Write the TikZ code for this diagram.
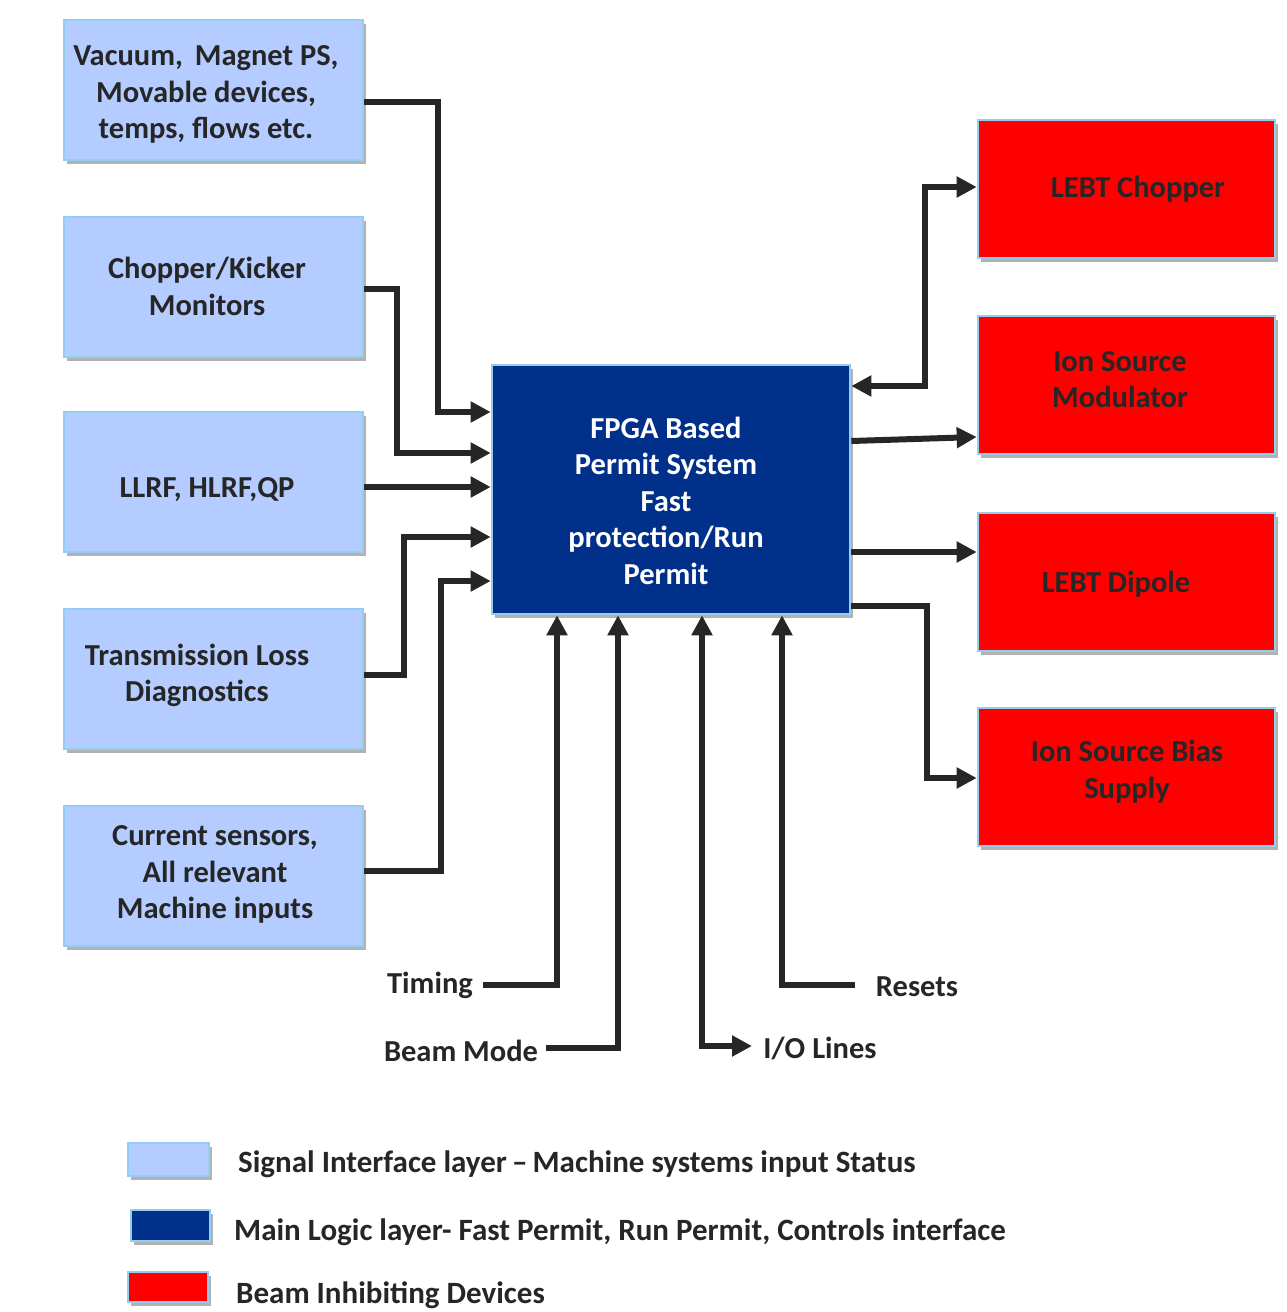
\documentclass[tikz,border=0pt]{standalone}
\usepackage{fontspec}
\setmainfont{Carlito}
\usetikzlibrary{arrows.meta,shadows}
\definecolor{txtc}{HTML}{262626}
\definecolor{lightfill}{HTML}{B4CCFF}
\definecolor{bordc}{HTML}{92CFEE}
\definecolor{darkfill}{HTML}{00308A}
\definecolor{redfill}{HTML}{FF0000}
\definecolor{linec}{HTML}{262626}
\tikzset{
  boxbase/.style={draw=bordc, line width=2.6pt, inner sep=0pt,
    drop shadow={shadow xshift=3pt, shadow yshift=-4pt, fill=black, opacity=0.3}},
  lightbox/.style={boxbase, fill=lightfill, minimum width=299pt, minimum height=140pt},
  darkbox/.style={boxbase, fill=darkfill, minimum width=358pt, minimum height=249pt},
  redbox/.style={boxbase, fill=redfill, minimum width=297pt, minimum height=138pt},
  boxtxt/.style={font=\fontsize{30.5}{36.5}\selectfont\bfseries, text=txtc, align=center, inner sep=0pt, yshift=-2.5pt},
  whitetxt/.style={boxtxt, text=white},
  lbl/.style={font=\fontsize{30.5}{36.5}\selectfont\bfseries, text=txtc, inner sep=0pt, yshift=-2pt},
  legtxt/.style={font=\fontsize{31}{36.5}\selectfont\bfseries, text=txtc, inner sep=0pt, anchor=west, yshift=-2pt},
  arr/.style={draw=linec, line width=6pt, -{Triangle[length=20pt,width=20pt]}},
  dblarr/.style={draw=linec, line width=6pt, {Triangle[length=20pt,width=20pt]}-{Triangle[length=20pt,width=20pt]}},
}
\begin{document}
\begin{tikzpicture}[x=1pt,y=-1pt]
\useasboundingbox (0,0) rectangle (1287,1312);
\fill[white] (0,0) rectangle (1287,1312);

% left boxes
\node[lightbox] (b1) at (213.5,90) {};
\node[lightbox] (b2) at (213.5,287) {};
\node[lightbox] (b3) at (213.5,482) {};
\node[lightbox] (b4) at (213.5,679) {};
\node[lightbox] (b5) at (213.5,876) {};
\node[boxtxt] (t1) at (206,92) {Vacuum,\, Magnet PS,\\Movable devices,\\temps, flows etc.};
\node[boxtxt] (t2) at (207,284) {Chopper/Kicker\\Monitors};
\node[boxtxt] (t3) at (207,487) {LLRF, HLRF,QP};
\node[boxtxt] (t4) at (197,673) {Transmission Loss\\Diagnostics};
\node[boxtxt] (t5) at (215,872) {Current sensors,\\All relevant\\Machine inputs};

% central box
\node[darkbox] (fpga) at (671,489.5) {};
\node[whitetxt] (tf) at (666,498) {FPGA Based\\Permit System\\Fast\\protection/Run\\Permit};

% red boxes
\node[redbox] (r1) at (1126.5,189) {};
\node[redbox] (r2) at (1126.5,385) {};
\node[redbox] (r3) at (1126.5,582) {};
\node[redbox] (r4) at (1126.5,777) {};
\node[boxtxt] (tr1) at (1138,187) {LEBT Chopper};
\node[boxtxt] (tr2) at (1120,377) {Ion Source\\Modulator};
\node[boxtxt] (tr3) at (1116,582) {LEBT Dipole};
\node[boxtxt] (tr4) at (1127,769) {Ion Source Bias\\Supply};

% left connectors
\draw[arr] ([yshift=-12pt]b1.east) -- ++(74,0) |- (fpga.west |- 0,412);
\draw[arr] ([yshift=-2pt]b2.east) -- ++(33,0) |- (fpga.west |- 0,453);
\draw[arr] (b3.east |- 0,487) -- (fpga.west |- 0,487);
\draw[arr] (b4.east |- 0,675) -- ++(40,0) |- (fpga.west |- 0,537);
\draw[arr] (b5.east |- 0,871) -- ++(77,0) |- (fpga.west |- 0,581);

% right connectors
\draw[dblarr] (fpga.east |- 0,386) -- ++(74,0) |- (r1.west |- 0,187);
\draw[arr] (fpga.east |- 0,441) -- (r2.west |- 0,437);
\draw[arr] (fpga.east |- 0,552) -- (r3.west |- 0,552);
\draw[arr] (fpga.east |- 0,606) -- ++(76,0) |- (r4.west |- 0,778);

% bottom labels
\node[lbl] (timing) at (430,983) {Timing};
\node[lbl] (beam) at (461,1049) {Beam Mode};
\node[lbl] (io) at (820,1046) {I/O Lines};
\node[lbl] (resets) at (917,985) {Resets};
\coordinate (tmS) at (483,985);
\coordinate (bmS) at (546,1048);
\coordinate (rsS) at (855,985);
\draw[arr] (tmS) -| (fpga.south -| 557,0);
\draw[arr] (bmS) -| (fpga.south -| 618,0);
\draw[dblarr] (fpga.south -| 702,0) |- (752,1046);
\draw[arr] (rsS) -| (fpga.south -| 782,0);

% legend
\node[boxbase, fill=lightfill, minimum width=81pt, minimum height=33pt] (lg1) at (168.5,1159.5) {};
\node[boxbase, fill=darkfill, minimum width=79pt, minimum height=31pt] (lg2) at (170.5,1225.5) {};
\node[boxbase, fill=redfill, minimum width=80pt, minimum height=30pt] (lg3) at (168,1287) {};
\node[legtxt] (lt1) at (238,1162) {Signal Interface layer\,--\,Machine systems input Status};
\node[legtxt] (lt2) at (234,1230) {Main Logic layer- Fast Permit, Run Permit, Controls interface};
\node[legtxt] (lt3) at (236,1293) {Beam Inhibiting Devices};
\end{tikzpicture}
\end{document}
